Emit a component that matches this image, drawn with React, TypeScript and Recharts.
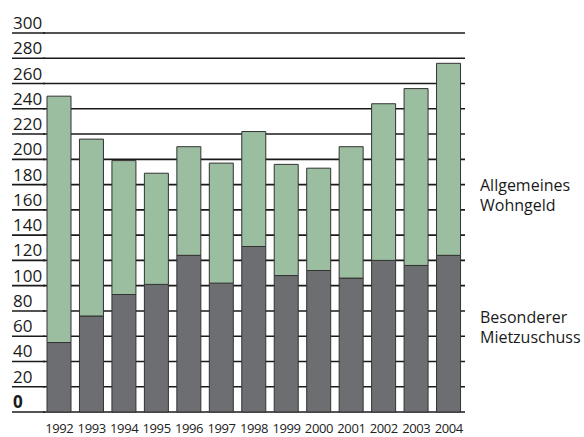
import React from "react";
import { BarChart, Bar, XAxis, YAxis, CartesianGrid } from "recharts";

const years = ["1992","1993","1994","1995","1996","1997","1998","1999","2000","2001","2002","2003","2004"];
const mietzuschuss = [55, 76, 93, 101, 124, 102, 131, 108, 112, 106, 120, 116, 124];
const wohngeld = [195, 140, 106, 88, 86, 95, 91, 88, 81, 104, 124, 140, 152];
const yTicks = [0, 20, 40, 60, 80, 100, 120, 140, 160, 180, 200, 220, 240, 260, 280, 300];
const legendTop = ["Allgemeines", "Wohngeld"];
const legendBottom = ["Besonderer", "Mietzuschuss"];

const data = years.map((y, i) => ({ year: y, m: mietzuschuss[i], w: wohngeld[i] }));

const FONT = "'Open Sans', 'DejaVu Sans', sans-serif";
const GREEN = "#9bbda0";
const GRAY = "#6d6e71";
const LINE = "#1a1a1a";

const YTick = (props: any) => {
  const { x, y, payload } = props;
  return (
    <g>
      <line x1={12} x2={x + 2} y1={y} y2={y} stroke={LINE} strokeWidth={1.6} />
      <text
        x={13}
        y={y - 4}
        textAnchor="start"
        fontFamily={FONT}
        fontSize={17}
        fontWeight={payload.value === 0 ? 700 : 400}
        fill="#1a1a1a"
      >
        {payload.value}
      </text>
    </g>
  );
};

const XTick = (props: any) => {
  const { x, y, payload } = props;
  return (
    <text x={x} y={y + 21} textAnchor="middle" fontFamily={FONT} fontSize={13} fill="#222" letterSpacing={-0.4}>
      {payload.value}
    </text>
  );
};

const labelStyle: React.CSSProperties = {
  position: "absolute",
  left: 480,
  fontFamily: FONT,
  fontSize: 16,
  lineHeight: "20px",
  color: "#1a1a1a",
  whiteSpace: "nowrap",
};

export default function App() {
  return (
    <div style={{ position: "absolute", left: 0, top: 0, width: 584, height: 437, background: "#fff" }}>
      <BarChart
        width={584}
        height={437}
        data={data}
        margin={{ top: 33, right: 119, left: 0, bottom: 0 }}
        barSize={24}
      >
        <CartesianGrid horizontal vertical={false} stroke={LINE} strokeWidth={1.6} strokeOpacity={1} />
        <XAxis
          dataKey="year"
          axisLine={false}
          tickLine={false}
          tickSize={0}
          tickMargin={0}
          height={25}
          interval={0}
          tick={<XTick />}
        />
        <YAxis
          type="number"
          domain={[0, 300]}
          ticks={yTicks}
          interval={0}
          width={43}
          axisLine={false}
          tickLine={false}
          tickSize={0}
          tickMargin={0}
          tick={<YTick />}
        />
        <Bar dataKey="m" stackId="a" fill={GRAY} stroke="#333" strokeWidth={1} isAnimationActive={false} />
        <Bar dataKey="w" stackId="a" fill={GREEN} stroke="#333" strokeWidth={1} isAnimationActive={false} />
      </BarChart>
      <div style={{ ...labelStyle, top: 175 }}>
        {legendTop.map((t) => (
          <div key={t}>{t}</div>
        ))}
      </div>
      <div style={{ ...labelStyle, top: 307 }}>
        {legendBottom.map((t) => (
          <div key={t}>{t}</div>
        ))}
      </div>
    </div>
  );
}
